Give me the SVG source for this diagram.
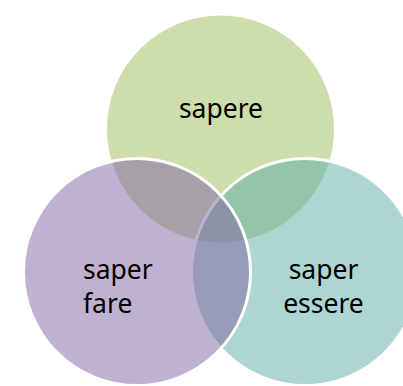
<svg xmlns="http://www.w3.org/2000/svg" width="403" height="386" viewBox="0 0 403 386">
<style>
.c{stroke:#ffffff;stroke-width:3;fill-opacity:0.5}
.t{font-family:"Noto Sans","Open Sans",sans-serif;font-size:26.5px;fill:#000000}
</style>
<rect width="403" height="386" fill="#ffffff"/>
<g id="sapere">
<circle class="c" cx="220.5" cy="129" r="115" fill="#9BBB59"/>
<text class="t" x="221" y="118" text-anchor="middle">sapere</text>
</g>
<g id="saper-essere">
<circle class="c" cx="305" cy="272" r="113.5" fill="#5BACA6"/>
<text class="t" x="323.5" y="279" text-anchor="middle">saper</text>
<text class="t" x="323.5" y="313" text-anchor="middle">essere</text>
</g>
<g id="saper-fare">
<circle class="c" cx="137" cy="272" r="113.5" fill="#8064A2"/>
<text class="t" x="83" y="279">saper</text>
<text class="t" x="83" y="313">fare</text>
</g>
</svg>
